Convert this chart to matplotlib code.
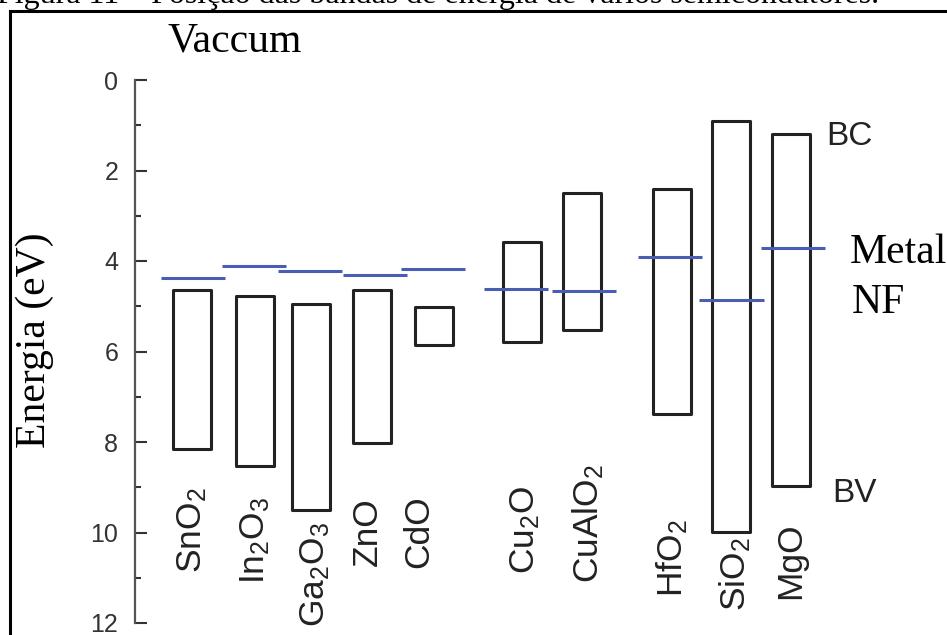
import matplotlib
matplotlib.use("Agg")
import matplotlib.pyplot as plt
import numpy as np
from matplotlib.lines import Line2D

plt.rcParams['mathtext.fontset'] = 'custom'
plt.rcParams['mathtext.rm'] = 'Liberation Sans'
plt.rcParams['mathtext.it'] = 'Liberation Sans:italic'
plt.rcParams['mathtext.bf'] = 'Liberation Sans:bold'

# ---- data ----
materials = ['SnO$_\\mathregular{2}$', 'In$_\\mathregular{2}$O$_\\mathregular{3}$',
             'Ga$_\\mathregular{2}$O$_\\mathregular{3}$', 'ZnO', 'CdO',
             'Cu$_\\mathregular{2}$O', 'CuAlO$_\\mathregular{2}$', 'HfO$_\\mathregular{2}$',
             'SiO$_\\mathregular{2}$', 'MgO']
band_bc = [4.63, 4.78, 4.96, 4.63, 5.01, 3.58, 2.49, 2.40, 0.91, 1.19]   # conduction band (top)
band_bv = [8.15, 8.53, 9.51, 8.02, 5.86, 5.80, 5.52, 7.39, 9.98, 8.98]   # valence band (bottom)
metal_nf = [4.37, 4.12, 4.22, 4.31, 4.17, 4.62, 4.67, 3.92, 4.87, 3.72]  # metal Fermi level
yticks = [0, 2, 4, 6, 8, 10, 12]
caption = "Figura 11 – Posição das bandas de energia de vários semicondutores."

# ---- layout ----
xpos = np.array([0, 1.05, 1.98, 3.0, 4.03, 5.5, 6.5, 8.0, 8.98, 9.98])
nf_dx = np.array([0.02, -0.02, -0.02, 0.05, -0.02, -0.10, 0.03, -0.03, 0.01, 0.04])
label_dx = np.array([0.0, 0.0, 0.08, -0.08, -0.25, 0.05, 0.1, 0.0, 0.07, 0.0])
label_y = [9.94, 10.17, 10.92, 9.97, 9.99, 9.94, 9.81, 10.56, 10.92, 10.63]

W, H = 947, 635
fig = plt.figure(figsize=(W / 100, H / 100), dpi=100)
fig.patch.set_facecolor('white')

ax_left, ax_top, ax_bot = 135, 80, 623
x0 = 192.0
unit = 60.0
ax = fig.add_axes([ax_left / W, (H - ax_bot) / H, (W - ax_left) / W, (ax_bot - ax_top) / H])
ax.set_xlim((ax_left - x0) / unit, (W - x0) / unit)
ax.set_ylim(12, 0)
ax.patch.set_alpha(0)
for s in ['top', 'right', 'bottom']:
    ax.spines[s].set_visible(False)
ax.spines['left'].set_color('#555555')
ax.spines['left'].set_linewidth(1.6)
ax.set_xticks([])
ax.set_yticks(yticks)
ax.set_yticks([1, 3, 5, 7, 9, 11], minor=True)
ax.tick_params(axis='y', which='major', direction='in', length=8.5, width=1.5,
               color='#333333', pad=12, labelsize=18, labelcolor='#333333')
ax.tick_params(axis='y', which='minor', direction='in', length=4.3, width=1.5, color='#333333')
for lab in ax.get_yticklabels():
    lab.set_family('Liberation Sans')

bc = np.array(band_bc)
bv = np.array(band_bv)
ax.bar(xpos, bv - bc, bottom=bc, width=0.64, fill=False, edgecolor='#222222',
       linewidth=2.2, joinstyle='round')
ax.hlines(metal_nf, xpos + nf_dx - 0.535, xpos + nf_dx + 0.535, color='#4a5db5',
          linewidth=2.2, capstyle='butt')

for name, x, dx, y in zip(materials, xpos, label_dx, label_y):
    ax.text(x + dx, y, name, rotation=90, ha='center', va='center', fontsize=25.5,
            family='Liberation Sans', color='#222222')

ax.text((826 - x0) / unit, 1.44, 'BC', fontsize=24, family='Liberation Sans',
        color='#222222', va='baseline', ha='left')
ax.text((832 - x0) / unit, 9.32, 'BV', fontsize=24, family='Liberation Sans',
        color='#222222', va='baseline', ha='left')
ax.text((850 - x0) / unit, 4.04, 'Metal', fontsize=30, family='Liberation Serif',
        color='black', va='baseline', ha='left', clip_on=False)
ax.text((852 - x0) / unit, 5.15, 'NF', fontsize=30, family='Liberation Serif',
        color='black', va='baseline', ha='left')

fig.text(167 / W, 1 - 52 / H, 'Vaccum', fontsize=30, family='Liberation Serif',
         va='baseline', ha='left')
fig.text(35 / W, 1 - 340 / H, 'Energia (eV)', fontsize=30, family='Liberation Serif',
         rotation=90, va='center', ha='center')

# caption, partially cut at the top of the image
cap = fig.text(-3 / W, 1 - 3 / H, caption, fontsize=20, family='Liberation Serif',
               va='baseline', ha='left')
fig.canvas.draw()
wpx = cap.get_window_extent().width
cap.set_fontsize(20 * 883 / wpx)

# frame lines
fig.add_artist(Line2D([10 / W, 10 / W], [0, 1 - 10.5 / H], transform=fig.transFigure,
                      color='black', linewidth=2.2, solid_capstyle='projecting'))
fig.add_artist(Line2D([10 / W, 1], [1 - 10.5 / H, 1 - 10.5 / H], transform=fig.transFigure,
                      color='black', linewidth=2.2, solid_capstyle='projecting'))

fig.savefig('out.png', dpi=100, facecolor='white')
